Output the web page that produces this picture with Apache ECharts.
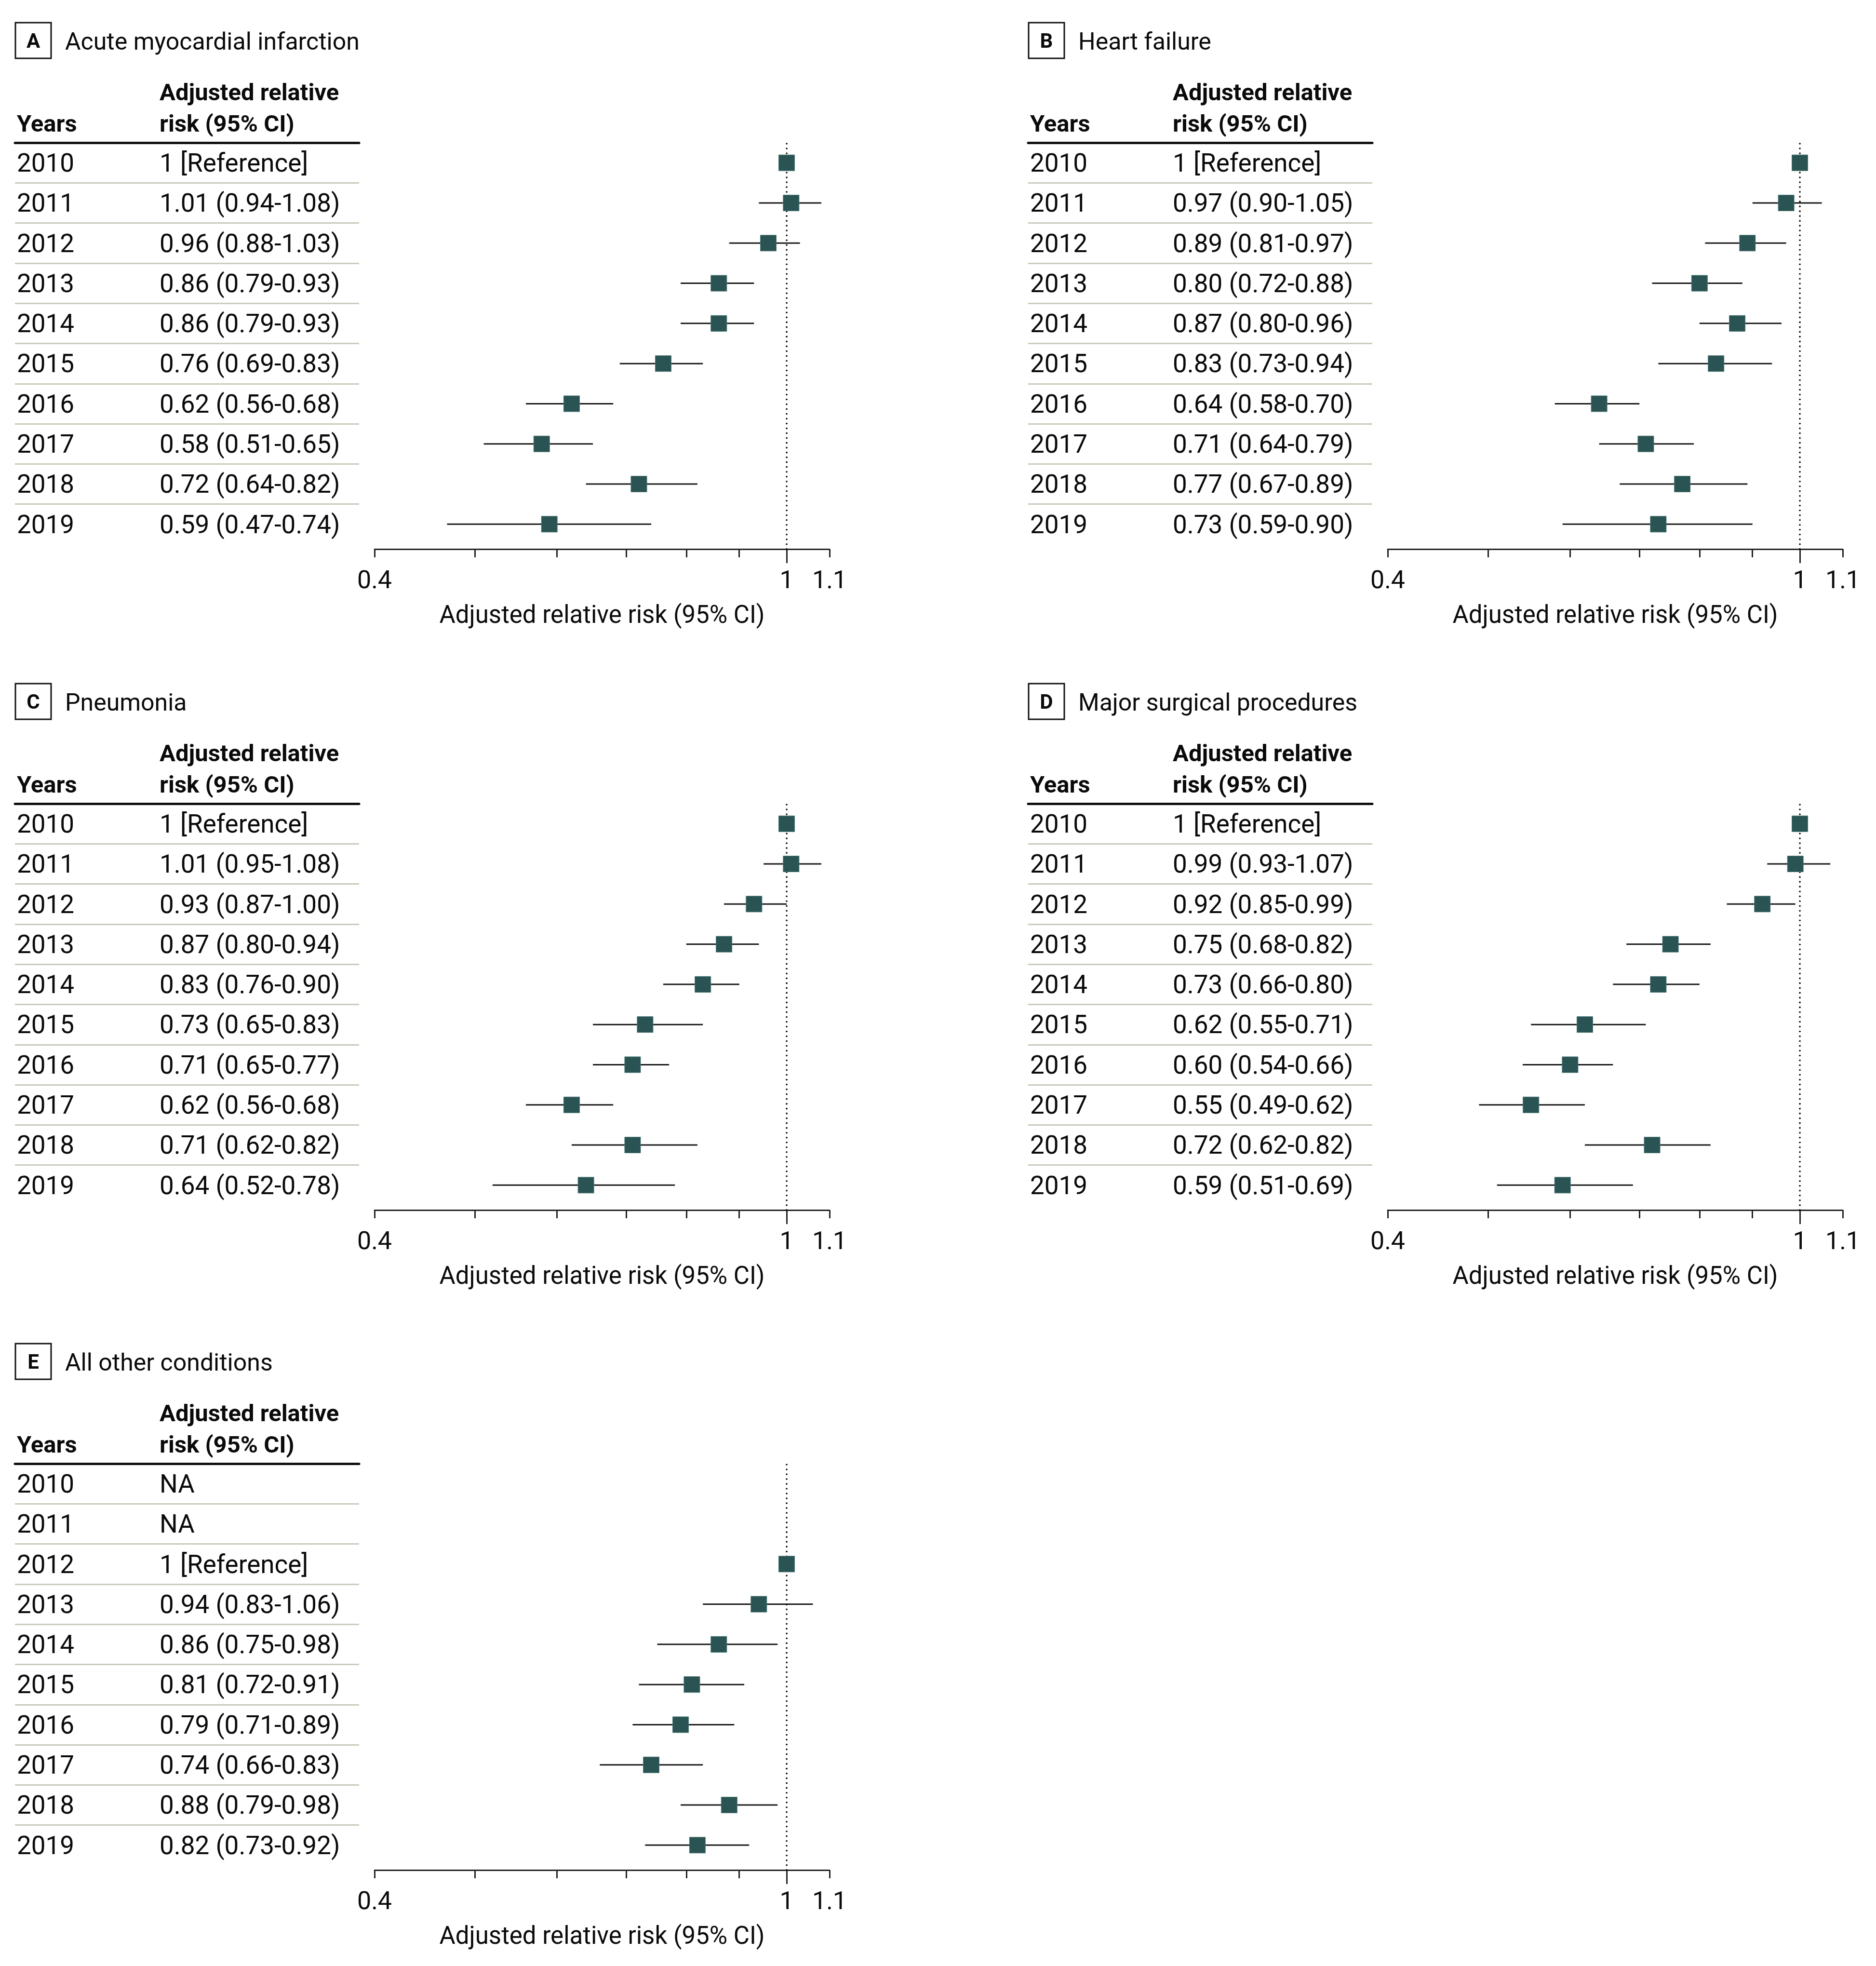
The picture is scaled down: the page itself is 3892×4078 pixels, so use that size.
<!DOCTYPE html>
<html>
<head>
<meta charset="utf-8">
<script src="https://cdn.jsdelivr.net/npm/echarts@6/dist/echarts.min.js"></script>
<style>
html,body{margin:0;padding:0;background:#ffffff;}
#chart{width:3892px;height:4078px;}
</style>
</head>
<body>
<div id="chart"></div>
<script>
// ---------------- DATA ----------------
const years = ['2010', '2011', '2012', '2013', '2014', '2015', '2016', '2017', '2018', '2019'];

const panelLetters = ['A', 'B', 'C', 'D', 'E'];
const panelTitles = ['Acute myocardial infarction', 'Heart failure', 'Pneumonia', 'Major surgical procedures', 'All other conditions'];

// Acute myocardial infarction
const amiRR   = [1,    1.01, 0.96, 0.86, 0.86, 0.76, 0.62, 0.58, 0.72, 0.59];
const amiLow  = [null, 0.94, 0.88, 0.79, 0.79, 0.69, 0.56, 0.51, 0.64, 0.47];
const amiHigh = [null, 1.08, 1.03, 0.93, 0.93, 0.83, 0.68, 0.65, 0.82, 0.74];
// Heart failure
const hfRR    = [1,    0.97, 0.89, 0.80, 0.87, 0.83, 0.64, 0.71, 0.77, 0.73];
const hfLow   = [null, 0.90, 0.81, 0.72, 0.80, 0.73, 0.58, 0.64, 0.67, 0.59];
const hfHigh  = [null, 1.05, 0.97, 0.88, 0.96, 0.94, 0.70, 0.79, 0.89, 0.90];
// Pneumonia
const pnaRR   = [1,    1.01, 0.93, 0.87, 0.83, 0.73, 0.71, 0.62, 0.71, 0.64];
const pnaLow  = [null, 0.95, 0.87, 0.80, 0.76, 0.65, 0.65, 0.56, 0.62, 0.52];
const pnaHigh = [null, 1.08, 1.00, 0.94, 0.90, 0.83, 0.77, 0.68, 0.82, 0.78];
// Major surgical procedures
const surgRR   = [1,    0.99, 0.92, 0.75, 0.73, 0.62, 0.60, 0.55, 0.72, 0.59];
const surgLow  = [null, 0.93, 0.85, 0.68, 0.66, 0.55, 0.54, 0.49, 0.62, 0.51];
const surgHigh = [null, 1.07, 0.99, 0.82, 0.80, 0.71, 0.66, 0.62, 0.82, 0.69];
// All other conditions (NA for 2010, 2011)
const otherRR   = [null, null, 1,    0.94, 0.86, 0.81, 0.79, 0.74, 0.88, 0.82];
const otherLow  = [null, null, null, 0.83, 0.75, 0.72, 0.71, 0.66, 0.79, 0.73];
const otherHigh = [null, null, null, 1.06, 0.98, 0.91, 0.89, 0.83, 0.98, 0.92];

// Axis (log scale) ticks and labels
const axisMin = 0.4;
const axisMax = 1.1;
const tickValues = [0.4, 0.5, 0.6, 0.7, 0.8, 0.9, 1, 1.1];
const tickLabelValues = [0.4, 1, 1.1];
const refValue = 1;
const axisTitle = 'Adjusted relative risk (95% CI)';
const headerYears = 'Years';
const headerRR1 = 'Adjusted relative';
const headerRR2 = 'risk (95% CI)';

const panelsData = [
  [amiRR, amiLow, amiHigh],
  [hfRR, hfLow, hfHigh],
  [pnaRR, pnaLow, pnaHigh],
  [surgRR, surgLow, surgHigh],
  [otherRR, otherLow, otherHigh]
];

// ---------------- LAYOUT / STYLE ----------------
const FONT = 'Roboto';
const TXT = '#0a0a0a';
const MARK = '#2a5453';
const SEP = '#c8cbbd';
const offsets = [[0, 0], [2102, 0], [0, 1371], [2102, 1371], [0, 2740]];
const ROW_TOP = 296, ROWS_H = 833;
const TABLE_L = 31, TABLE_W = 714;
const PLOT_L = 777, PLOT_W = 944;
const AXIS_OFFSET = 10;
const FS = 53;

const L = Math.log;
function fmtTick(v) { return String(Math.round(Math.exp(v) * 10) / 10); }
function rowLabel(rr, lo, hi) {
  if (rr == null) return 'NA';
  if (lo == null) return String(rr) + ' [Reference]';
  return rr.toFixed(2) + ' (' + lo.toFixed(2) + '-' + hi.toFixed(2) + ')';
}

const grid = [], xAxis = [], yAxis = [], series = [], graphic = [];

function txt(x, y, text, size, bold, align) {
  return {
    type: 'text', x: x, y: y,
    style: {
      text: text, fontSize: size, fontWeight: bold ? 'bold' : 'normal', fontFamily: FONT, fill: TXT,
      textAlign: align, align: align, textVerticalAlign: 'middle', verticalAlign: 'middle'
    }
  };
}

panelsData.forEach(function (pd, k) {
  const ox = offsets[k][0], oy = offsets[k][1];
  const rr = pd[0], lo = pd[1], hi = pd[2];
  const labels = rr.map(function (v, i) { return rowLabel(v, lo[i], hi[i]); });

  const gTable = grid.length;
  grid.push({ left: ox + TABLE_L, top: oy + ROW_TOP, width: TABLE_W, height: ROWS_H, containLabel: false });
  const gPlot = grid.length;
  grid.push({ left: ox + PLOT_L, top: oy + ROW_TOP, width: PLOT_W, height: ROWS_H, containLabel: false });

  // table x axis: thick header rule at top
  xAxis.push({
    gridIndex: gTable, type: 'value', min: 0, max: 1, position: 'top',
    axisLine: { show: true, lineStyle: { color: '#111', width: 5 } },
    axisTick: { show: false }, axisLabel: { show: false }, splitLine: { show: false }
  });
  const xMain = xAxis.length;
  xAxis.push({
    gridIndex: gPlot, type: 'value', min: L(axisMin), max: L(axisMax), position: 'bottom', offset: AXIS_OFFSET,
    axisLine: { show: true, onZero: false, lineStyle: { color: '#222', width: 3 } },
    axisTick: { show: true, customValues: tickValues.map(L), length: 17, lineStyle: { color: '#222', width: 3 } },
    axisLabel: {
      show: true, customValues: tickLabelValues.map(L), formatter: fmtTick, margin: 42,
      fontSize: 52, fontFamily: FONT, color: TXT
    },
    splitLine: { show: false },
    name: axisTitle, nameLocation: 'middle', nameGap: 115,
    nameTextStyle: { fontSize: 51, fontFamily: FONT, color: TXT }
  });
  // long tick at reference value
  xAxis.push({
    gridIndex: gPlot, type: 'value', min: L(axisMin), max: L(axisMax), position: 'bottom', offset: AXIS_OFFSET,
    axisLine: { show: false, onZero: false },
    axisTick: { show: true, customValues: [L(refValue)], length: 29, lineStyle: { color: '#222', width: 3 } },
    axisLabel: { show: false }, splitLine: { show: false }
  });

  yAxis.push({
    gridIndex: gTable, type: 'category', data: years, inverse: true,
    axisLine: { show: false }, axisTick: { show: false },
    splitLine: { show: true, interval: 0, showMinLine: false, showMaxLine: false, lineStyle: { color: SEP, width: 3 } },
    axisLabel: {
      show: true, inside: true, margin: 4, interval: 0,
      padding: [10, 0, 0, 0],
      formatter: function (val, idx) { return '{y|' + val + '}{v|' + labels[idx] + '}'; },
      rich: {
        y: { width: 296, fontSize: FS, fontFamily: FONT, color: TXT },
        v: { fontSize: FS, fontFamily: FONT, color: TXT }
      }
    }
  });
  const yPlot = yAxis.length;
  yAxis.push({ gridIndex: gPlot, type: 'category', data: years, inverse: true, show: false });

  // CI lines
  const ciData = [];
  rr.forEach(function (v, i) { if (v != null && lo[i] != null) ciData.push([L(lo[i]), L(hi[i]), i]); });
  series.push({
    type: 'custom', name: 'CI ' + panelLetters[k], xAxisIndex: xMain, yAxisIndex: yPlot, clip: false, z: 2,
    silent: true,
    encode: { x: [0, 1], y: 2 },
    data: ciData,
    renderItem: function (params, api) {
      const y = api.value(2);
      const a = api.coord([api.value(0), y]);
      const b = api.coord([api.value(1), y]);
      return { type: 'line', shape: { x1: a[0], y1: a[1], x2: b[0], y2: b[1] }, style: { stroke: '#1a1a1a', lineWidth: 3 } };
    }
  });
  // dotted reference line at 1
  series.push({
    type: 'custom', name: 'Ref ' + panelLetters[k], xAxisIndex: xMain, yAxisIndex: yPlot, clip: false, z: 3,
    silent: true,
    encode: { x: 0 },
    data: [[L(refValue)]],
    renderItem: function (params, api) {
      const cs = params.coordSys;
      const x = api.coord([api.value(0), 0])[0];
      return {
        type: 'line',
        shape: { x1: x, y1: cs.y + 2, x2: x, y2: cs.y + cs.height + AXIS_OFFSET },
        style: { stroke: '#000', lineWidth: 3.6, lineDash: [0.01, 10], lineCap: 'round' }
      };
    }
  });
  // point estimates
  const ptData = [];
  rr.forEach(function (v, i) { if (v != null) ptData.push([L(v), i]); });
  series.push({
    type: 'scatter', name: 'RR ' + panelLetters[k], xAxisIndex: xMain, yAxisIndex: yPlot, z: 5,
    symbol: 'rect', symbolSize: 33, silent: true,
    itemStyle: { color: MARK, borderColor: '#4f7b78', borderWidth: 1, opacity: 1 },
    data: ptData
  });

  // panel label box, title, headers
  graphic.push({ type: 'rect', shape: { x: ox + 32, y: oy + 47, width: 74, height: 74 }, style: { fill: 'none', stroke: '#111', lineWidth: 3 } });
  graphic.push(txt(ox + 69, oy + 88, panelLetters[k], 42, true, 'center'));
  graphic.push(txt(ox + 135, oy + 90, panelTitles[k], 50, false, 'left'));
  graphic.push(txt(ox + 331, oy + 196, headerRR1, 49, true, 'left'));
  graphic.push(txt(ox + 331, oy + 261, headerRR2, 49, true, 'left'));
  graphic.push(txt(ox + 35, oy + 261, headerYears, 49, true, 'left'));
});

const chart = echarts.init(document.getElementById('chart'), null, { renderer: 'canvas', width: 3892, height: 4078 });
chart.setOption({
  backgroundColor: '#ffffff',
  animation: false,
  textStyle: { fontFamily: FONT },
  grid: grid,
  xAxis: xAxis,
  yAxis: yAxis,
  series: series,
  graphic: graphic
});
</script>
</body>
</html>
